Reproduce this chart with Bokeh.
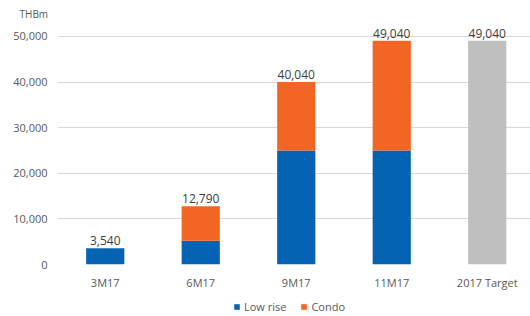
from bokeh.plotting import figure
from bokeh.layouts import column
from bokeh.models import ColumnDataSource, FixedTicker, Legend, LegendItem, NumeralTickFormatter
from bokeh.core.properties import value
from bokeh.embed import file_html
from bokeh.resources import INLINE

categories = ["3M17", "6M17", "9M17", "11M17", "2017 Target"]
low_rise = [3540, 5200, 25000, 25000]
condo = [0, 7590, 15040, 24040]
target = [49040]
totals = [3540, 12790, 40040, 49040, 49040]
total_labels = ["3,540", "12,790", "40,040", "49,040", "49,040"]
series_names = ["Low rise", "Condo"]

FONT = "Open Sans"
BLUE = "#0563B4"
ORANGE = "#F26522"
GRAY = "#BFBFBF"
TXT = "#595959"

pos = list(range(len(categories)))

p = figure(width=530, height=292, output_backend="svg", toolbar_location=None,
           x_range=(-0.5, 4.453), y_range=(0, 53500),
           min_border_left=57, min_border_right=0, min_border_top=20, min_border_bottom=27)
p.outline_line_color = None
p.title.text = "THBm"
p.title.align = "left"
p.title.offset = -38
p.title.standoff = 0
p.title.text_font = FONT
p.title.text_font_size = "10px"
p.title.text_font_style = "normal"
p.title.text_color = TXT

src = ColumnDataSource(dict(x=pos[:4], low=low_rise, condo=condo))
r_stack = p.vbar_stack(["low", "condo"], x="x", width=0.4, source=src,
                       color=[BLUE, ORANGE], line_color=None)
p.vbar(x=[pos[4]], top=target, width=0.4, color=GRAY, line_color=None)

lsrc = ColumnDataSource(dict(x=pos, y=totals, t=total_labels))
p.text(x="x", y="y", text="t", source=lsrc, text_align="center", text_baseline="bottom",
       y_offset=-3, text_font=value(FONT), text_font_size="12px", text_color="#404040")

p.xaxis.ticker = FixedTicker(ticks=pos)
p.xaxis.major_label_overrides = {i: c for i, c in zip(pos, categories)}
p.xaxis.axis_line_color = None
p.xaxis.major_tick_line_color = None
p.xaxis.major_tick_out = 0
p.xaxis.minor_tick_line_color = None
p.xaxis.major_label_text_font = FONT
p.xaxis.major_label_text_font_size = "11px"
p.xaxis.major_label_text_color = TXT
p.xaxis.major_label_standoff = 10
p.xgrid.grid_line_color = None

p.yaxis.ticker = FixedTicker(ticks=[0, 10000, 20000, 30000, 40000, 50000])
p.yaxis.formatter = NumeralTickFormatter(format="0,0")
p.yaxis.axis_line_color = None
p.yaxis.major_tick_line_color = None
p.yaxis.major_tick_out = 0
p.yaxis.minor_tick_line_color = None
p.yaxis.major_label_text_font = FONT
p.yaxis.major_label_text_font_size = "11px"
p.yaxis.major_label_text_color = TXT
p.yaxis.major_label_standoff = 10
p.ygrid.grid_line_color = "#D9D9D9"
p.ygrid.grid_line_width = 1

# legend strip below the chart (zero-height swatch renderers only feed the legend)
p2 = figure(width=530, height=24, output_backend="svg", toolbar_location=None,
            x_range=(0, 1), y_range=(0, 1),
            min_border_left=0, min_border_right=0, min_border_top=0, min_border_bottom=0)
p2.outline_line_color = None
p2.axis.visible = False
p2.grid.visible = False
lr = [p2.vbar(x=[0], top=[0], width=0.0, color=c, line_color=None) for c in [BLUE, ORANGE]]
legend = Legend(items=[LegendItem(label=n, renderers=[r]) for n, r in zip(series_names, lr)],
                orientation="horizontal", location=(176, 2),
                glyph_width=7, glyph_height=7, label_text_font=FONT,
                label_text_font_size="11px", label_text_color=TXT,
                border_line_color=None, background_fill_alpha=0,
                padding=0, margin=0, spacing=14, label_standoff=4, label_height=14)
p2.add_layout(legend)

layout = column(p, p2, spacing=0)
open("out.html", "w").write(file_html(layout, INLINE))
